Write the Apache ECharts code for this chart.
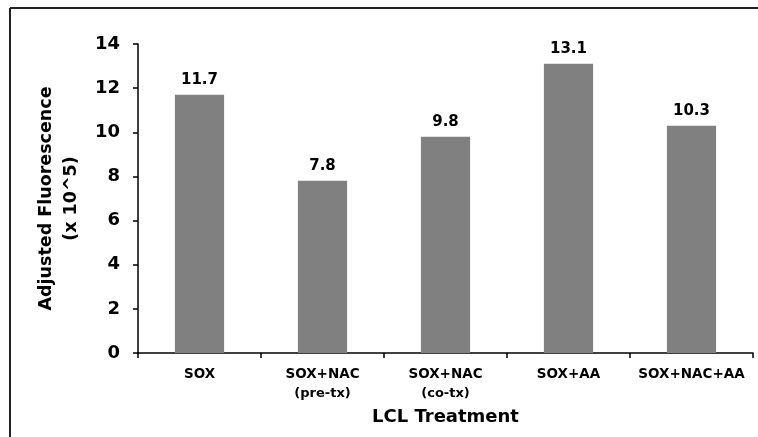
<!DOCTYPE html>
<html>
<head>
<meta charset="utf-8">
<script src="https://cdn.jsdelivr.net/npm/echarts@6/dist/echarts.min.js"></script>
<style>
  html, body { margin: 0; padding: 0; background: #fff; }
  #chart { width: 758px; height: 437px; }
</style>
</head>
<body>
<div id="chart"></div>
<script>
var categories = ['SOX', 'SOX+NAC\n{s|(pre-tx)}', 'SOX+NAC\n{s|(co-tx)}', 'SOX+AA', 'SOX+NAC+AA'];
var values = [11.7, 7.8, 9.8, 13.1, 10.3];
var yTicks = { min: 0, max: 14, interval: 2 };

var font = '"DejaVu Sans", Verdana, sans-serif';

var myChart = echarts.init(document.getElementById('chart'));
var option = {
	animation: false,
	backgroundColor: '#fff',
	grid: { left: 138, right: 5, top: 44, bottom: 84 },
	// frame lines (top + left only)
	graphic: [
		{ type: 'line', shape: { x1: 10, y1: 8, x2: 758, y2: 8 }, style: { stroke: '#222', lineWidth: 2 } },
		{ type: 'line', shape: { x1: 10, y1: 8, x2: 10, y2: 437 }, style: { stroke: '#222', lineWidth: 2 } }
	],
	xAxis: {
		type: 'category',
		data: categories,
		name: 'LCL Treatment',
		nameLocation: 'middle',
		nameGap: 55,
		nameTextStyle: { fontFamily: font, fontWeight: 'bold', fontSize: 18, color: '#000' },
		axisLine: { lineStyle: { color: '#000', width: 1.5 } },
		axisTick: { show: true, interval: 0, length: 5, lineStyle: { color: '#000', width: 1.5 } },
		axisLabel: {
			interval: 0, hideOverlap: false,
			fontFamily: font, fontWeight: 'bold', fontSize: 13.5, color: '#000',
			margin: 12, lineHeight: 19,
			rich: { s: { fontFamily: font, fontWeight: 'bold', fontSize: 13, color: '#000', lineHeight: 19 } }
		}
	},
	yAxis: {
		type: 'value',
		min: yTicks.min, max: yTicks.max, interval: yTicks.interval,
		name: 'Adjusted Fluorescence\n(x 10^5)',
		nameLocation: 'middle',
		nameGap: 54,
		nameTextStyle: { fontFamily: font, fontWeight: 'bold', fontSize: 17.5, color: '#000', lineHeight: 25 },
		axisLine: { show: true, lineStyle: { color: '#000', width: 1.5 } },
		axisTick: { show: true, length: 5, lineStyle: { color: '#000', width: 1.5 } },
		axisLabel: { fontFamily: font, fontWeight: 'bold', fontSize: 18, color: '#000', margin: 18 },
		splitLine: { show: false }
	},
	series: [
		{
			type: 'bar',
			data: values,
			barWidth: '40%',
			itemStyle: { color: '#808080' },
			label: {
				show: true,
				position: 'top',
				distance: 7,
				fontFamily: font, fontWeight: 'bold', fontSize: 15, color: '#000'
			}
		}
	]
};
myChart.setOption(option);
</script>
</body>
</html>
